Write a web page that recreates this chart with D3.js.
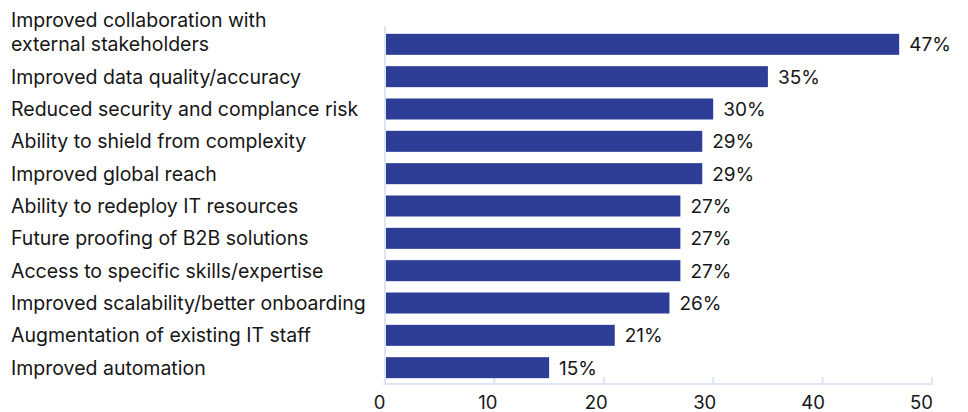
<!DOCTYPE html>
<html>
<head>
<meta charset="utf-8">
<script src="https://cdn.jsdelivr.net/npm/d3@7"></script>
<style>
  body { margin: 0; background: #fff; }
  text { font-family: Inter, "Noto Sans", sans-serif; fill: #161616; }
</style>
</head>
<body>
<svg id="chart" width="968" height="412"></svg>
<script>
const categories = [
    ["Improved collaboration with", "external stakeholders"],
    ["Improved data quality/accuracy"],
    ["Reduced security and complance risk"],
    ["Ability to shield from complexity"],
    ["Improved global reach"],
    ["Ability to redeploy IT resources"],
    ["Future proofing of B2B solutions"],
    ["Access to specific skills/expertise"],
    ["Improved scalability/better onboarding"],
    ["Augmentation of existing IT staff"],
    ["Improved automation"]
]
const values = [47, 35, 30, 29, 29, 27, 27, 27, 26, 21, 15]
const ticks = [0, 10, 20, 30, 40, 50]

const svg = d3.select("#chart")
const mLeft = 385, mRight = 932, mTop = 28, mBottom = 384

const x = d3.scaleLinear().domain([0, 50]).range([mLeft, mRight])
// tick labels sit a little left of their tick marks in the original
const xLabel = d3.scaleLinear().domain([0, 50]).range([379, 921])
const y = d3.scaleBand()
    .domain(d3.range(values.length))
    .range([mTop, mBottom])
    .paddingInner(0.35)
    .paddingOuter(0.18)

// axis lines
svg.append("line")
    .attr("x1", mLeft).attr("x2", mLeft)
    .attr("y1", mTop - 2).attr("y2", mBottom)
    .attr("stroke", "#dce5f3").attr("stroke-width", 2)

const xAxis = svg.append("g")
    .attr("transform", `translate(0,${mBottom})`)
    .call(d3.axisBottom(xLabel).tickValues(ticks).tickSize(0).tickPadding(12))
xAxis.select(".domain").remove()
xAxis.selectAll(".tick line").remove()
xAxis.selectAll(".tick text")
    .attr("font-size", 18.5)
    .attr("font-family", "Inter, 'Noto Sans', sans-serif")
    .attr("fill", "#161616")

svg.append("line")
    .attr("x1", mLeft - 2).attr("x2", mRight + 1)
    .attr("y1", mBottom).attr("y2", mBottom)
    .attr("stroke", "#dce5f3").attr("stroke-width", 2)

svg.selectAll(".tickmark")
    .data(ticks)
    .join("line")
    .attr("class", "tickmark")
    .attr("x1", d => x(d)).attr("x2", d => x(d))
    .attr("y1", mBottom).attr("y2", mBottom - 7)
    .attr("stroke", "#dce5f3").attr("stroke-width", 2)

// bars
svg.selectAll(".bar")
    .data(values)
    .join("rect")
    .attr("class", "bar")
    .attr("x", x(0) + 1)
    .attr("y", (d, i) => y(i))
    .attr("width", d => x(d) - x(0) - 1)
    .attr("height", y.bandwidth())
    .attr("fill", "#2e3d96")

// value labels
svg.selectAll(".val")
    .data(values)
    .join("text")
    .attr("class", "val")
    .attr("x", d => x(d) + 10)
    .attr("y", (d, i) => y(i) + y.bandwidth() / 2)
    .attr("dy", "0.36em")
    .attr("font-size", 19)
    .text(d => d + "%")

// category labels
const lab = svg.selectAll(".cat")
    .data(categories)
    .join("text")
    .attr("class", "cat")
    .attr("x", 11)
    .attr("y", (d, i) => y(i) + y.bandwidth() / 2)
    .attr("font-size", 19.5)

lab.selectAll("tspan")
    .data(d => d.map((t, j) => ({t, j, n: d.length})))
    .join("tspan")
    .attr("x", 11)
    .attr("dy", d => d.j === 0 ? (0.36 - (d.n - 1) * 1.25) + "em" : "1.25em")
    .text(d => d.t)
</script>
</body>
</html>
